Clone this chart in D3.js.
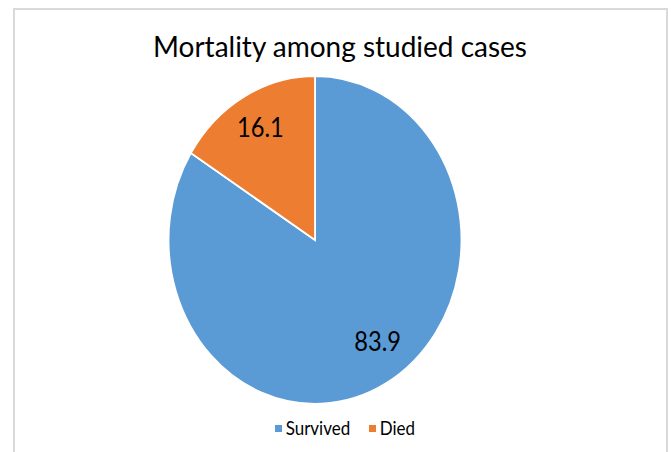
<!DOCTYPE html>
<html>
<head>
<meta charset="utf-8">
<script src="https://cdn.jsdelivr.net/npm/d3@7"></script>
<style>
  body { margin: 0; background: #fff; }
  text { font-family: Lato, "Open Sans", sans-serif; fill: #000; }
</style>
</head>
<body>
<div id="chart"></div>
<script>
// data
var labels = ['Survived', 'Died'];
var values = [83.9, 16.1];
var colors = ['#5B9BD5', '#ED7D31'];

var width = 671, height = 452;
// the original picture is squeezed sideways
var squeeze = 0.893;
var cx = 315, cy = 240, radius = 164;

// small nudges of the data labels off the centroid, like Excel does
var labelNudge = [[8, -9], [0, -2]];

var svg = d3.select('#chart').append('svg')
  .attr('width', width)
  .attr('height', height);

// chart frame
svg.append('rect')
  .attr('x', 14).attr('y', 9)
  .attr('width', 653).attr('height', 470)
  .attr('fill', '#fff')
  .attr('stroke', '#d9d9d9')
  .attr('stroke-width', 2);

// title
svg.append('text')
  .attr('x', 340).attr('y', 57)
  .attr('text-anchor', 'middle')
  .attr('font-size', 29)
  .attr('textLength', 374)
  .attr('lengthAdjust', 'spacingAndGlyphs')
  .text('Mortality among studied cases');

var pie = d3.pie().sort(null).value(function (d) { return d; });
var arcs = pie(values);

var arc = d3.arc().innerRadius(0).outerRadius(radius);
var labelArc = d3.arc().innerRadius(radius * 0.77).outerRadius(radius * 0.77);

var g = svg.append('g')
  .attr('transform', 'translate(' + cx + ',' + cy + ') scale(' + squeeze + ',1)');

g.selectAll('path.slice')
  .data(arcs)
  .enter().append('path')
  .attr('class', 'slice')
  .attr('d', arc)
  .attr('fill', function (d, i) { return colors[i]; })
  .attr('stroke', '#fff')
  .attr('stroke-width', 2);

// data labels
svg.selectAll('text.lbl')
  .data(arcs)
  .enter().append('text')
  .attr('class', 'lbl')
  .attr('transform', function (d, i) {
    var c = labelArc.centroid(d);
    var x = cx + c[0] * squeeze + labelNudge[i][0];
    var y = cy + c[1] + labelNudge[i][1];
    return 'translate(' + x + ',' + y + ') scale(' + squeeze + ',1)';
  })
  .attr('text-anchor', 'middle')
  .attr('dy', '0.35em')
  .attr('font-size', 26.5)
  .text(function (d) { return d.data.toFixed(1); });

// legend
var legX = [275, 369];
var leg = svg.selectAll('g.leg')
  .data(labels)
  .enter().append('g')
  .attr('class', 'leg')
  .attr('transform', function (d, i) { return 'translate(' + legX[i] + ',425)'; });

leg.append('rect')
  .attr('width', 7).attr('height', 7)
  .attr('fill', function (d, i) { return colors[i]; });

leg.append('text')
  .attr('x', 12).attr('y', 10)
  .attr('font-size', 19)
  .attr('transform', 'scale(' + squeeze + ',1)')
  .text(function (d) { return d; });
</script>
</body>
</html>
